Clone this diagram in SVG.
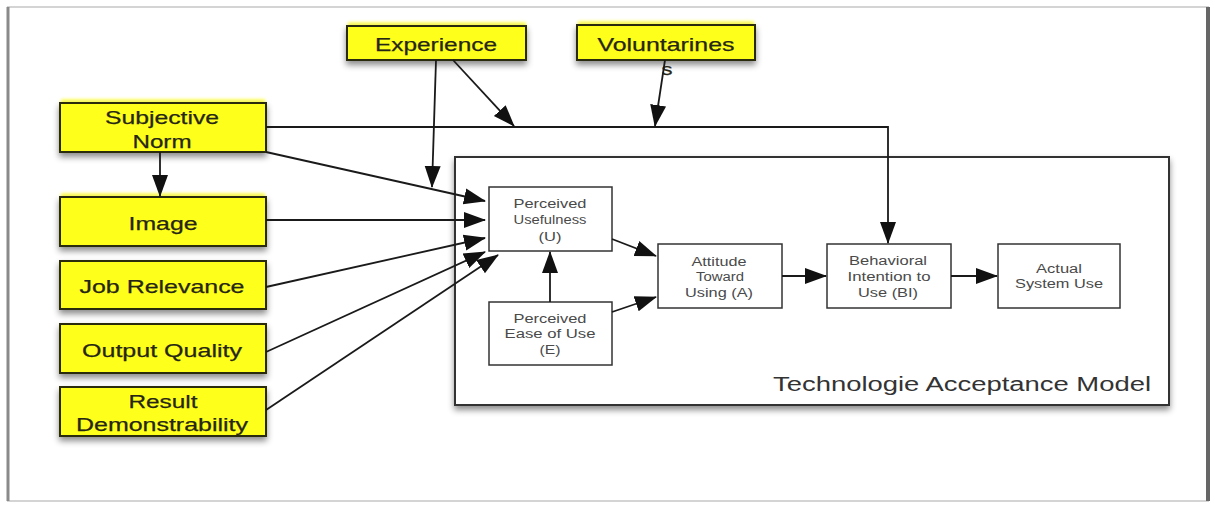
<svg xmlns="http://www.w3.org/2000/svg" width="1215" height="506" viewBox="0 0 1215 506">
  <defs>
    <style>
      .frame { fill: #ffffff; stroke: #d4d4d4; stroke-width: 2; }
      .side { stroke: #8a8a8a; stroke-width: 3; }
      .yellow .glow { fill: #ffff33; stroke: none; filter: url(#soft); opacity: 0.8; }
      .yellow .box { fill: #ffff1a; stroke: #2a2a10; stroke-width: 2; filter: url(#shadow); }
      .yellow text { font-family: "Liberation Sans", Arial, sans-serif; font-size: 19px; fill: #262614; text-anchor: middle; stroke: #262614; stroke-width: 0.25; }
      .tam rect { fill: #ffffff; stroke: #333; stroke-width: 1.5; }
      .tam text { font-family: "Liberation Sans", Arial, sans-serif; font-size: 12px; fill: #4a4a4a; text-anchor: middle; }
      .model { fill: #ffffff; stroke: #333; stroke-width: 2; filter: url(#shadow); }
      .title { font-family: "Liberation Sans", Arial, sans-serif; font-size: 20px; fill: #333; }
      .conn path, .conn line { fill: none; stroke: #1a1a1a; stroke-width: 1.8; }
      .conn .arr { marker-end: url(#head); }
    </style>
    <marker id="head" markerUnits="userSpaceOnUse" markerWidth="24" markerHeight="20" refX="21" refY="10" orient="auto">
      <path d="M0,2 L22,10 L0,18 Z" fill="#111"/>
    </marker>
    <filter id="shadow" x="-10%" y="-20%" width="120%" height="160%">
      <feDropShadow dx="0" dy="4" stdDeviation="3" flood-color="#000" flood-opacity="0.45"/>
    </filter>
    <filter id="soft" x="-10%" y="-30%" width="120%" height="160%">
      <feGaussianBlur stdDeviation="1.5"/>
    </filter>
  </defs>

  <!-- page frame -->
  <rect class="frame" x="8" y="7" width="1200" height="494"/>
  <line class="side" x1="8" y1="7" x2="8" y2="501"/>
  <line class="side" x1="1208" y1="7" x2="1208" y2="501" style="stroke:#666;stroke-width:4"/>

  <!-- model boundary -->
  <g id="model">
    <rect class="model" x="455" y="157" width="714" height="248"/>
    <text class="title" x="773" y="391" textLength="378" lengthAdjust="spacingAndGlyphs">Technologie Acceptance Model</text>
  </g>

  <!-- external factors -->
  <g id="experience" class="yellow">
    <rect class="glow" x="348" y="22" width="178" height="12"/>
    <rect class="box" x="347" y="26" width="179" height="34"/>
    <text x="436" y="51" textLength="122" lengthAdjust="spacingAndGlyphs">Experience</text>
  </g>
  <g id="voluntariness" class="yellow">
    <rect class="glow" x="578" y="21" width="176" height="12"/>
    <rect class="box" x="577" y="25" width="178" height="35"/>
    <text x="666" y="51" textLength="137" lengthAdjust="spacingAndGlyphs">Voluntarines</text>
    <text x="667" y="75" style="font-size:16px" textLength="11" lengthAdjust="spacingAndGlyphs">s</text>
  </g>
  <g id="subjective-norm" class="yellow">
    <rect class="glow" x="61" y="99" width="204" height="12"/>
    <rect class="box" x="60" y="103" width="206" height="49"/>
    <text x="162" y="124" textLength="114" lengthAdjust="spacingAndGlyphs">Subjective</text>
    <text x="162" y="148" textLength="59" lengthAdjust="spacingAndGlyphs">Norm</text>
  </g>
  <g id="image" class="yellow">
    <rect class="glow" x="61" y="193" width="204" height="12"/>
    <rect class="box" x="60" y="197" width="206" height="49"/>
    <text x="163" y="230" textLength="69" lengthAdjust="spacingAndGlyphs">Image</text>
  </g>
  <g id="job-relevance" class="yellow">
    <rect class="box" x="60" y="261" width="206" height="48"/>
    <text x="162" y="293" textLength="165" lengthAdjust="spacingAndGlyphs">Job Relevance</text>
  </g>
  <g id="output-quality" class="yellow">
    <rect class="box" x="60" y="324" width="206" height="49"/>
    <text x="162" y="357" textLength="160" lengthAdjust="spacingAndGlyphs">Output Quality</text>
  </g>
  <g id="result-demonstrability" class="yellow">
    <rect class="box" x="60" y="387" width="206" height="49"/>
    <text x="163" y="408" textLength="69" lengthAdjust="spacingAndGlyphs">Result</text>
    <text x="162" y="431" textLength="172" lengthAdjust="spacingAndGlyphs">Demonstrability</text>
  </g>

  <!-- TAM constructs -->
  <g id="pu" class="tam">
    <rect x="489" y="187" width="123" height="64"/>
    <text x="550" y="208" textLength="73" lengthAdjust="spacingAndGlyphs">Perceived</text>
    <text x="550" y="224" textLength="73" lengthAdjust="spacingAndGlyphs">Usefulness</text>
    <text x="550" y="241" textLength="23" lengthAdjust="spacingAndGlyphs">(U)</text>
  </g>
  <g id="peou" class="tam">
    <rect x="489" y="302" width="123" height="63"/>
    <text x="550" y="323" textLength="73" lengthAdjust="spacingAndGlyphs">Perceived</text>
    <text x="550" y="338" textLength="91" lengthAdjust="spacingAndGlyphs">Ease of Use</text>
    <text x="550" y="354" textLength="21" lengthAdjust="spacingAndGlyphs">(E)</text>
  </g>
  <g id="attitude" class="tam">
    <rect x="658" y="244" width="124" height="64"/>
    <text x="719" y="266" textLength="55" lengthAdjust="spacingAndGlyphs">Attitude</text>
    <text x="720" y="281" textLength="48" lengthAdjust="spacingAndGlyphs">Toward</text>
    <text x="719" y="297" textLength="68" lengthAdjust="spacingAndGlyphs">Using (A)</text>
  </g>
  <g id="bi" class="tam">
    <rect x="827" y="244" width="124" height="64"/>
    <text x="888" y="265" textLength="78" lengthAdjust="spacingAndGlyphs">Behavioral</text>
    <text x="889" y="281" textLength="83" lengthAdjust="spacingAndGlyphs">Intention to</text>
    <text x="888" y="297" textLength="60" lengthAdjust="spacingAndGlyphs">Use (BI)</text>
  </g>
  <g id="use" class="tam">
    <rect x="998" y="244" width="122" height="64"/>
    <text x="1059" y="273" textLength="46" lengthAdjust="spacingAndGlyphs">Actual</text>
    <text x="1059" y="288" textLength="88" lengthAdjust="spacingAndGlyphs">System Use</text>
  </g>

  <!-- connectors -->
  <g id="connectors" class="conn">
    <line class="arr" x1="160" y1="152" x2="160" y2="196"/>
    <path class="arr" d="M266,127 H888 V243"/>
    <line class="arr" x1="266" y1="152" x2="485" y2="201"/>
    <line class="arr" x1="266" y1="220" x2="485" y2="220"/>
    <line class="arr" x1="266" y1="287" x2="485" y2="238"/>
    <line class="arr" x1="266" y1="352" x2="485" y2="252"/>
    <line class="arr" x1="266" y1="410" x2="498" y2="255"/>
    <line class="arr" x1="436" y1="60" x2="432" y2="187"/>
    <line class="arr" x1="453" y1="60" x2="514" y2="126"/>
    <line class="arr" x1="665" y1="60" x2="655" y2="126"/>
    <line class="arr" x1="612" y1="239" x2="656" y2="256"/>
    <line class="arr" x1="612" y1="312" x2="656" y2="297"/>
    <line class="arr" x1="550" y1="302" x2="550" y2="252"/>
    <line class="arr" x1="782" y1="276" x2="826" y2="276"/>
    <line class="arr" x1="951" y1="276" x2="997" y2="276"/>
  </g>
</svg>
